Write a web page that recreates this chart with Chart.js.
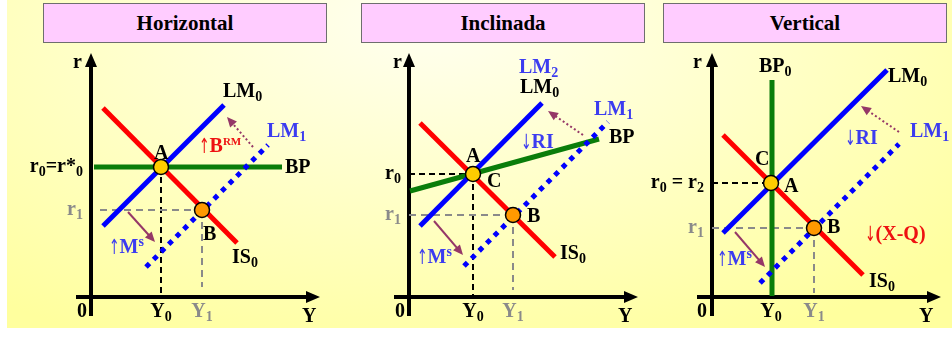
<!DOCTYPE html>
<html>
<head>
<meta charset="utf-8">
<title>IS-LM-BP</title>
<script src="https://cdn.jsdelivr.net/npm/chart.js@4.4.1/dist/chart.umd.min.js"></script>
<style>
  body { margin: 0; width: 952px; height: 339px; background: #fff; overflow: hidden; position: relative; }
  #bg { position: absolute; left: 7px; top: 0; width: 945px; height: 328px;
        background: radial-gradient(ellipse 75% 110% at 45% 5%, #fffff2 0%, #ffffc8 50%, #ffff9e 100%); }
  .title { position: absolute; top: 3px; height: 40px; box-sizing: border-box; border: 1.5px solid #6e6e6e;
           background: #ffccff; font: bold 21px "Liberation Serif", "Times New Roman", serif;
           text-align: center; line-height: 38px; color: #000; }
  canvas { position: absolute; top: 0; }
</style>
</head>
<body>
<div id="bg"></div>
<script>
const panelTitles = ['Horizontal', 'Inclinada', 'Vertical']

// curve end points per panel, as (Y, r)
const IS0 = [[[1.2, 18.9], [14.6, 5.4]], [[1.1, 17.4], [14.6, 4.0]], [[1.1, 16.2], [15.1, 2.2]]]
const LM0 = [[[1.2, 7.1], [13.3, 19.2]], [[1.1, 7.1], [13.3, 19.4]], [[1.1, 6.4], [17.5, 22.7]]]
const LM1 = [[[5.5, 3.0], [17.7, 15.2]], [[5.5, 3.1], [19.9, 17.5]], [[4.8, 1.4], [18.7, 15.3]]]
const BP = [[[0.3, 13.0], [19.1, 13.0]], [[0.1, 10.6], [19.0, 15.8]], [[6.0, 0.1], [6.0, 21.7]]]

// equilibria: A = (Y0, r0), B = (Y1, r1)
const pointA = [[7.0, 13.0], [6.4, 12.3], [5.9, 11.4]]
const pointB = [[11.1, 8.7], [10.4, 8.2], [10.2, 6.9]]

// shift arrows: money supply up (solid) and LM going back (dotted)
const shiftMs = [[[3.7, 8.5], [6.4, 5.5]], [[2.5, 7.6], [5.4, 4.2]], [[2.3, 6.5], [5.3, 3.0]]]
const shiftBack = [[[16.2, 15.0], [13.6, 18.0]], [[17.4, 16.2], [13.9, 18.6]], [[18.7, 16.5], [14.9, 19.1]]]

// tick labels
const rTickLabels = [['r_{0}=r*_{0}', 'r_{1}'], ['r_{0}', 'r_{1}'], ['r_{0} = r_{2}', 'r_{1}']]
const yTickLabels = ['Y_{0}', 'Y_{1}']

const K = '#000', BLUE = '#3c3cf0', RED = '#ee1111', GRAY = '#8a8a8a'
const FONT = '"Liberation Serif", "Times New Roman", serif'

// panel placement and annotations
const panels = [
  { left: 0, width: 330, axisX: 91, titleLeft: 43, r0Line: false, y0Line: true, r1Start: 0.9, y1End: 1.0,
    labels: [
      ['r', -0.9, 22.9, K, 'right'], ['LM_{0}', 13.2, 20.0, K], ['LM_{1}', 17.6, 16.0, BLUE],
      ['↑B^{RM}', 10.8, 14.5, RED], ['A', 6.3, 13.8, K], ['BP', 19.4, 12.4, K], ['B', 11.2, 5.7, K],
      ['↑M^{s}', 1.8, 4.4, BLUE], ['IS_{0}', 14.1, 3.4, K], ['0', -0.9, -2.0, K, 'center'], ['Y', 21.1, -2.5, K]
    ] },
  { left: 330, width: 310, axisX: 409, titleLeft: 361, r0Line: true, y0Line: true, r1Start: 0, y1End: 0.7,
    labels: [
      ['r', -0.7, 22.9, K, 'right'], ['LM_{2}', 11.0, 22.4, BLUE], ['LM_{0}', 11.1, 20.4, K],
      ['LM_{1}', 18.5, 18.2, BLUE], ['BP', 20.0, 15.4, K], ['↓RI', 11.2, 14.9, BLUE], ['A', 5.7, 13.5, K],
      ['C', 7.8, 11.0, K], ['B', 11.8, 7.5, K], ['↑M^{s}', 0.8, 3.4, BLUE], ['IS_{0}', 15.1, 3.8, K],
      ['0', -0.9, -2.0, K, 'center'], ['Y', 20.9, -2.5, K]
    ] },
  { left: 640, width: 312, axisX: 712, titleLeft: 663, r0Line: true, y0Line: false, r1Start: 0, y1End: 0.4,
    labels: [
      ['r', -1.0, 22.9, K, 'right'], ['BP_{0}', 4.7, 22.5, K], ['LM_{0}', 17.6, 21.5, K],
      ['LM_{1}', 19.8, 16.0, BLUE], ['↓RI', 13.3, 15.3, BLUE], ['C', 4.3, 13.2, K], ['A', 7.2, 10.5, K],
      ['B', 11.5, 6.4, K], ['↓(X-Q)', 15.3, 5.7, RED], ['↑M^{s}', 0.5, 3.2, BLUE], ['IS_{0}', 15.7, 1.0, K],
      ['0', -1.0, -2.0, K, 'center'], ['Y', 20.7, -2.5, K]
    ] }
]

function parseRich(s) {
  const parts = []
  const re = /([_^])\{([^}]*)\}|([↑↓])/g
  let last = 0, m
  while ((m = re.exec(s))) {
    if (m.index > last) parts.push({ t: s.slice(last, m.index), k: '' })
    if (m[3]) parts.push({ t: m[3], k: 'a' })
    else parts.push({ t: m[2], k: m[1] })
    last = re.lastIndex
  }
  if (last < s.length) parts.push({ t: s.slice(last), k: '' })
  return parts
}

function fontFor(p) {
  if (p.k === '_') return `bold 14px ${FONT}`
  if (p.k === '^') return /[a-z]/.test(p.t) ? `bold 14px ${FONT}` : `bold 11px ${FONT}`
  if (p.k === 'a') return `21px "DejaVu Sans", sans-serif`
  return `bold 20px ${FONT}`
}

function drawRich(ctx, s, x, y, color, align) {
  const parts = parseRich(s)
  let w = 0
  parts.forEach(p => {
    ctx.font = fontFor(p)
    p.w = ctx.measureText(p.t).width * (p.k === 'a' ? 0.6 : 1)
    w += p.w
  })
  let cx = align === 'right' ? x - w : align === 'center' ? x - w / 2 : x
  ctx.fillStyle = color
  ctx.textAlign = 'left'
  ctx.textBaseline = 'alphabetic'
  parts.forEach(p => {
    ctx.font = fontFor(p)
    const dy = p.k === '_' ? 4 : p.k === '^' ? -7 : p.k === 'a' ? 1 : 0
    if (p.k === 'a') {
      // narrow the arrow glyph a little
      ctx.save()
      ctx.translate(cx, y + dy)
      ctx.scale(0.6, 1)
      ctx.fillText(p.t, 0, 0)
      ctx.restore()
    } else {
      ctx.fillText(p.t, cx, y + dy)
    }
    cx += p.w
  })
}

function arrow(ctx, x1, y1, x2, y2, color, dash) {
  const a = Math.atan2(y2 - y1, x2 - x1)
  ctx.save()
  ctx.strokeStyle = color
  ctx.fillStyle = color
  ctx.lineWidth = 2
  ctx.setLineDash(dash)
  ctx.beginPath()
  ctx.moveTo(x1, y1)
  ctx.lineTo(x2 - 6 * Math.cos(a), y2 - 6 * Math.sin(a))
  ctx.stroke()
  ctx.setLineDash([])
  ctx.beginPath()
  ctx.moveTo(x2, y2)
  ctx.lineTo(x2 - 10 * Math.cos(a) + 4.5 * Math.sin(a), y2 - 10 * Math.sin(a) - 4.5 * Math.cos(a))
  ctx.lineTo(x2 - 10 * Math.cos(a) - 4.5 * Math.sin(a), y2 - 10 * Math.sin(a) + 4.5 * Math.cos(a))
  ctx.closePath()
  ctx.fill()
  ctx.restore()
}

const diagramPlugin = {
  id: 'diagram',
  beforeDatasetsDraw(chart, args, opts) {
    const ctx = chart.ctx, xs = chart.scales.x, ys = chart.scales.y
    const ox = xs.getPixelForValue(0), oy = ys.getPixelForValue(0)
    const yTop = ys.getPixelForValue(24.4), yBot = ys.getPixelForValue(-1.9)
    const xL = xs.getPixelForValue(-1.5), xR = xs.getPixelForValue(22.9)
    ctx.save()
    ctx.strokeStyle = '#000'
    ctx.fillStyle = '#000'
    ctx.lineWidth = 4
    ctx.beginPath()
    ctx.moveTo(ox, yBot); ctx.lineTo(ox, yTop + 10)
    ctx.moveTo(xL, oy); ctx.lineTo(xR - 10, oy)
    ctx.stroke()
    ctx.beginPath()
    ctx.moveTo(ox, yTop); ctx.lineTo(ox - 6, yTop + 14); ctx.lineTo(ox + 6, yTop + 14); ctx.closePath()
    ctx.moveTo(xR, oy); ctx.lineTo(xR - 14, oy - 6); ctx.lineTo(xR - 14, oy + 6); ctx.closePath()
    ctx.fill()
    ctx.restore()
  },
  afterDatasetsDraw(chart, args, opts) {
    const i = opts.panel, p = panels[i]
    const ctx = chart.ctx, xs = chart.scales.x, ys = chart.scales.y
    const X = v => xs.getPixelForValue(v), Y = v => ys.getPixelForValue(v)
    const [m0, m1] = shiftMs[i], [b0, b1] = shiftBack[i]
    arrow(ctx, X(m0[0]), Y(m0[1]), X(m1[0]), Y(m1[1]), '#953767', [])
    arrow(ctx, X(b0[0]), Y(b0[1]), X(b1[0]), Y(b1[1]), '#953767', [2, 2.5])
    // tick labels
    drawRich(ctx, rTickLabels[i][0], X(-0.8), Y(pointA[i][1]) + 5, K, 'right')
    drawRich(ctx, rTickLabels[i][1], X(-0.8), Y(pointB[i][1]) + 5, GRAY, 'right')
    drawRich(ctx, yTickLabels[0], X(pointA[i][0]), Y(-2.0), K, 'center')
    drawRich(ctx, yTickLabels[1], X(pointB[i][0]), Y(-2.0), GRAY, 'center')
    p.labels.forEach(([t, x, y, c, al]) => drawRich(ctx, t, X(x), Y(y), c, al || 'left'))
  }
}

const line = (pts, color, width, dash) => ({
  data: pts.map(([x, y]) => ({ x, y })),
  showLine: true, borderColor: color, borderWidth: width, borderDash: dash || [],
  borderCapStyle: 'butt', pointRadius: 0, clip: false
})
const dot = (pt, color) => ({
  data: [{ x: pt[0], y: pt[1] }], showLine: false, pointRadius: 7.5,
  pointBackgroundColor: color, backgroundColor: color, pointBorderColor: '#000', borderColor: '#000',
  pointBorderWidth: 1.5, clip: false
})

panels.forEach((p, i) => {
  const t = document.createElement('div')
  t.className = 'title'
  t.style.left = p.titleLeft + 'px'
  t.style.width = '284px'
  t.textContent = panelTitles[i]
  document.body.appendChild(t)

  const cv = document.createElement('canvas')
  cv.width = p.width
  cv.height = 339
  cv.style.left = p.left + 'px'
  document.body.appendChild(cv)

  const A = pointA[i], B = pointB[i]
  // listed bottom layer first, then reversed: Chart.js paints dataset 0 on top
  const datasets = []
  if (p.y0Line) datasets.push(line([[A[0], A[1]], [A[0], 0]], '#000', 2, [6, 4]))
  if (p.r0Line) datasets.push(line([[0, A[1]], [A[0], A[1]]], '#000', 2, [6, 4]))
  datasets.push(line([[p.r1Start, B[1]], [B[0], B[1]]], GRAY, 2, [7, 5]))
  datasets.push(line([[B[0], B[1]], [B[0], p.y1End]], GRAY, 2, [7, 5]))
  datasets.push(line(BP[i], '#0a7d0a', 5))
  datasets.push(line(IS0[i], '#ff0000', 5))
  datasets.push(line(LM0[i], '#0000ff', 5))
  datasets.push(line(LM1[i], '#0000ff', 5, [5, 5.7]))
  datasets.push(dot(A, '#ffcc00'))
  datasets.push(dot(B, '#ff9900'))
  datasets.reverse()

  const padLeft = p.axisX - p.left
  new Chart(cv, {
    type: 'scatter',
    data: { datasets },
    options: {
      responsive: false,
      animation: false,
      devicePixelRatio: 1,
      events: [],
      layout: { padding: { left: padLeft, right: p.width - padLeft - 220, top: 57, bottom: 42 } },
      scales: {
        x: { type: 'linear', min: 0, max: 22, display: false },
        y: { type: 'linear', min: 0, max: 24, display: false }
      },
      plugins: { legend: { display: false }, tooltip: { enabled: false }, diagram: { panel: i } }
    },
    plugins: [diagramPlugin]
  })
})
</script>
</body>
</html>
